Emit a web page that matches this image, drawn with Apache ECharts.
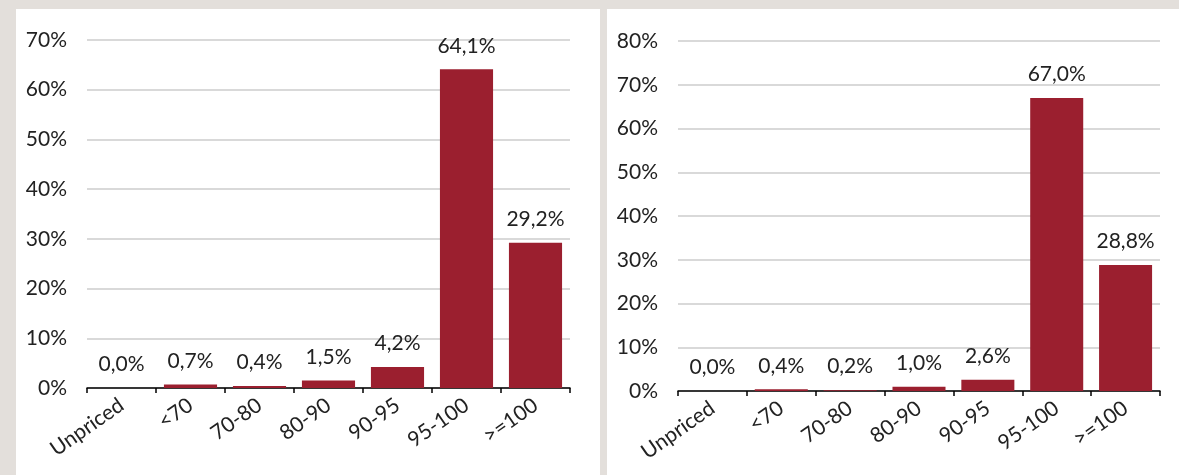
<!DOCTYPE html>
<html><head><meta charset="utf-8">
<script src="https://cdn.jsdelivr.net/npm/echarts@6/dist/echarts.min.js"></script>
<style>
html,body{margin:0;padding:0;width:1179px;height:475px;background:#e3dfdb;overflow:hidden;}
.panel{position:absolute;background:#fff;}
</style></head>
<body>
<div id="c1" class="panel" style="left:16px;top:9px;width:584px;height:466px;"></div>
<div id="c2" class="panel" style="left:607px;top:9px;width:572px;height:466px;"></div>
<script>
const categories = ['Unpriced', '<70', '70-80', '80-90', '90-95', '95-100', '>=100'];
const leftValues = [0.0, 0.7, 0.4, 1.5, 4.2, 64.1, 29.2];
const rightValues = [0.0, 0.4, 0.2, 1.0, 2.6, 67.0, 28.8];
const leftMax = 70;
const rightMax = 80;

const FONT = 'Lato';
const TXT = '#222';
const BAR = '#9b1f2f';

function makeOption(values, max, grid) {
  return {
    animation: false,
    grid: grid,
    xAxis: {
      type: 'category',
      data: categories,
      axisLine: {lineStyle: {color: '#000', width: 1.5}},
      axisTick: {show: true, length: 5, lineStyle: {color: '#000', width: 1.5}},
      axisLabel: {rotate: 35, margin: 15, color: TXT, fontFamily: FONT, fontSize: 21, interval: 0}
    },
    yAxis: {
      type: 'value', min: 0, max: max, interval: 10,
      axisLine: {show: false}, axisTick: {show: false},
      splitLine: {lineStyle: {color: '#d9d9d9', width: 2}},
      axisLabel: {margin: 20, color: TXT, fontFamily: FONT, fontSize: 21, formatter: v => v + '%'}
    },
    series: [{
      type: 'bar',
      data: values,
      barWidth: '77%',
      itemStyle: {color: BAR},
      label: {
        show: true, position: 'top', distance: 13,
        color: TXT, fontFamily: FONT, fontSize: 21,
        formatter: p => p.value.toFixed(1).replace('.', ',') + '%'
      }
    }]
  };
}

echarts.init(document.getElementById('c1')).setOption(
  makeOption(leftValues, leftMax, {left: 71, right: 30, top: 31, bottom: 87}));
echarts.init(document.getElementById('c2')).setOption(
  makeOption(rightValues, rightMax, {left: 71, right: 19, top: 32, bottom: 84}));
</script>
</body></html>
